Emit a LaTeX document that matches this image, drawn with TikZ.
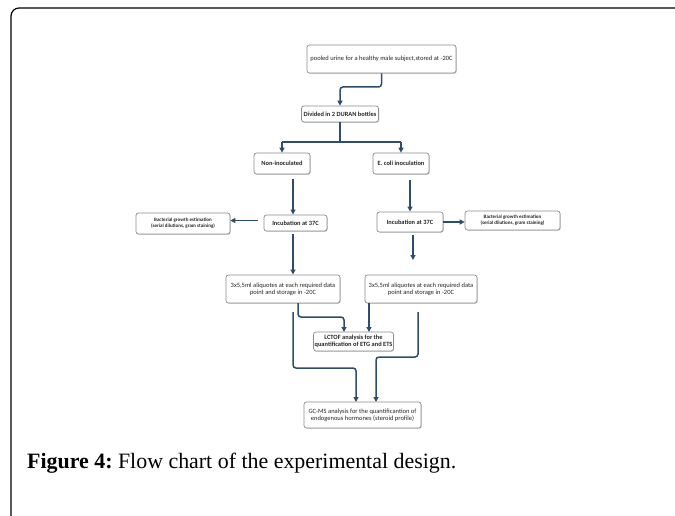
\documentclass[tikz,border=0pt]{standalone}
\usepackage{fontspec}
\setmainfont{Liberation Serif}
\newfontfamily\boxfont{Carlito}
\usetikzlibrary{arrows.meta,shadows}
\definecolor{flow}{HTML}{2E4C6B}
\definecolor{boxline}{HTML}{8C8C8C}
\tikzset{
  fbox/.style={draw=boxline, line width=0.7pt, rounded corners=2.5pt, fill=white,
    drop shadow={shadow xshift=0.8pt, shadow yshift=-0.8pt, opacity=0.35},
    align=center, inner sep=1pt, font=\boxfont\fontsize{6.5}{7.2}\selectfont, text=black!85},
  bfont/.style={font=\boxfont\bfseries\fontsize{6.4}{7.2}\selectfont},
  sfont/.style={font=\boxfont\bfseries\fontsize{5.0}{5.8}\selectfont},
  conn/.style={draw=flow, line width=1.5pt, rounded corners=3pt,
    -{Triangle[length=5pt,width=5pt]}},
  plain/.style={draw=flow, line width=1.5pt, rounded corners=3pt},
}
\begin{document}
\begin{tikzpicture}[x=1pt,y=-1pt]
\useasboundingbox (0,0) rectangle (675,516);
% frame
\draw[line width=1.2pt, rounded corners=8pt] (11,517) -- (11,8) -- (677,8);

% nodes
\node[fbox, minimum width=149pt, minimum height=28pt] (A) at (381.5,59) {pooled urine for a healthy male subject,stored at -20C};
\node[fbox, bfont, minimum width=77pt, minimum height=16pt] (B) at (340,114) {Divided in 2 DURAN bottles};
\node[fbox, bfont, minimum width=56pt, minimum height=21pt] (C) at (282,163.5) {Non-inoculated};
\node[fbox, bfont, minimum width=56pt, minimum height=21pt] (D) at (401,163.5) {E. coli inoculation};
\node[fbox, bfont, minimum width=63pt, minimum height=16pt] (E) at (295.5,223) {Incubation at 37C};
\node[fbox, sfont, minimum width=94pt, minimum height=21pt] (F) at (183,223.5) {Bacterial growth estimation\\(serial dilutions, gram staining)};
\node[fbox, bfont, minimum width=66pt, minimum height=20pt] (G) at (410,222) {Incubation at 37C};
\node[fbox, sfont, minimum width=95pt, minimum height=19pt] (H) at (512.5,220.5) {Bacterial growth estimation\\(serial dilutions, gram staining)};
\node[fbox, minimum width=114pt, minimum height=28pt] (I) at (283,289) {3x5,5ml aliquotes at each required data\\point and storage in -20C};
\node[fbox, minimum width=112pt, minimum height=28pt] (J) at (421,289) {3x5,5ml aliquotes at each required data\\point and storage in -20C};
\node[fbox, bfont, minimum width=71pt, minimum height=19pt] (K) at (353.5,341.5) {LCTOF analysis for the\\quantification of ETG and ETS};
\node[fbox, minimum width=117pt, minimum height=26pt] (L) at (362.5,415) {GC-MS analysis for the quantificantion of\\endogenous hormones (steroid profile)};

% connectors
\draw[conn] (A.south) -- (381.5,87) -- (340,87) -- (B.north);
\draw[plain] (B.south) -- (340,142);
\draw[conn] (282,142) -- (C.north);
\draw[conn] (401,142) -- (D.north);
\draw[plain] (282,142) -- (401,142);
\coordinate (c1) at (293,179);
\coordinate (d1) at (410,180);
\draw[conn] (c1) -- (293,214.5);
\draw[conn] (d1) -- (410,211.5);
\draw[conn] (E.west) ++(-6pt,2.5pt) coordinate (e1) -- (F.east |- e1);
\draw[conn] (G.east) -- (H.west |- G.east);
\coordinate (e2) at (293,234);
\coordinate (g2) at (413,235);
\draw[conn] (e2) -- (293,274.5);
\draw[conn] (g2) -- (413,260);
% aliquot -> LCTOF
\draw[conn] (298,303) -- (298,317) -- (344,317) -- (344,332);
\draw[conn] (369,303) -- (369,332);
% long lines -> GC-MS
\coordinate (i3) at (293,312);
\coordinate (j3) at (418,312);
\draw[conn] (i3) -- (293,368) -- (356,368) -- (356,402);
\draw[conn] (j3) -- (418,357) -- (376,357) -- (376,402);

% caption
\node[anchor=west, inner sep=0pt] (cap) at (27,463) {\resizebox{429pt}{!}{\textbf{Figure 4:}\ Flow chart of the experimental design.}};
\end{tikzpicture}
\end{document}
